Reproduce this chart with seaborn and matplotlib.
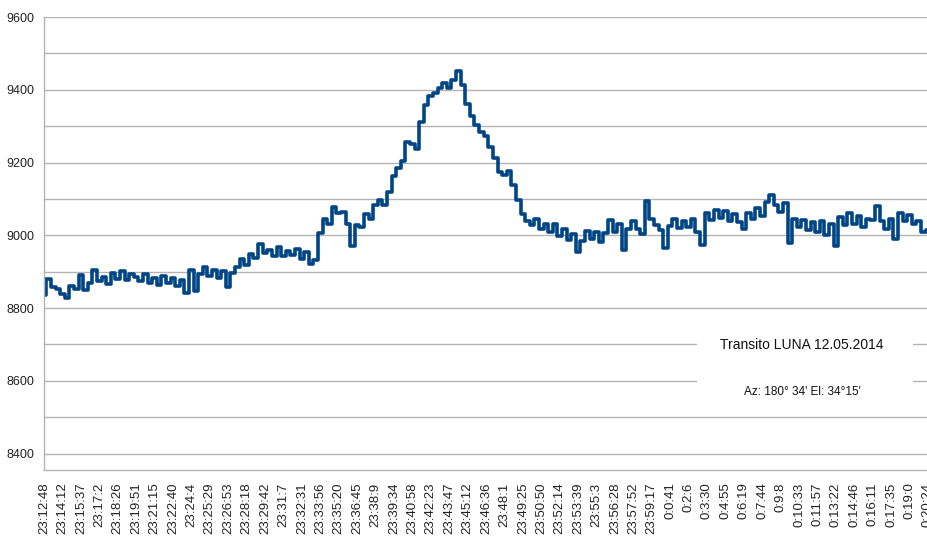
import numpy as np
import pandas as pd
import matplotlib
matplotlib.use("Agg")
import matplotlib.pyplot as plt
from matplotlib.patches import Rectangle
import seaborn as sns

# time labels shown on the x axis (one every 4 samples)
time_labels = ['23:12:48', '23:14:12', '23:15:37', '23:17:2', '23:18:26', '23:19:51',
               '23:21:15', '23:22:40', '23:24:4', '23:25:29', '23:26:53', '23:28:18',
               '23:29:42', '23:31:7', '23:32:31', '23:33:56', '23:35:20', '23:36:45',
               '23:38:9', '23:39:34', '23:40:58', '23:42:23', '23:43:47', '23:45:12',
               '23:46:36', '23:48:1', '23:49:25', '23:50:50', '23:52:14', '23:53:39',
               '23:55:3', '23:56:28', '23:57:52', '23:59:17', '0:0:41', '0:2:6',
               '0:3:30', '0:4:55', '0:6:19', '0:7:44', '0:9:8', '0:10:33',
               '0:11:57', '0:13:22', '0:14:46', '0:16:11', '0:17:35', '0:19:0',
               '0:20:24']

# signal values
signal = [
    8835, 8880, 8858, 8852, 8840, 8828, 8862, 8852, 8890, 8850,
    8868, 8905, 8875, 8886, 8866, 8896, 8880, 8902, 8876, 8894,
    8886, 8874, 8893, 8870, 8884, 8864, 8888, 8868, 8882, 8860,
    8878, 8842, 8905, 8848, 8893, 8912, 8888, 8906, 8884, 8902,
    8858, 8896, 8912, 8936, 8918, 8950, 8938, 8976, 8952, 8960,
    8944, 8968, 8942, 8958, 8946, 8962, 8934, 8954, 8922, 8932,
    9005, 9045, 9032, 9078, 9060, 9064, 9030, 8972, 9028, 9022,
    9058, 9044, 9082, 9096, 9084, 9118, 9162, 9186, 9204, 9256,
    9252, 9238, 9312, 9358, 9384, 9392, 9406, 9418, 9404, 9426,
    9452, 9412, 9362, 9328, 9302, 9284, 9272, 9244, 9212, 9174,
    9166, 9176, 9138, 9098, 9058, 9038, 9028, 9046, 9018, 9032,
    9008, 9030, 8998, 9016, 8988, 9004, 8954, 8984, 9012, 8990,
    9008, 8982, 9006, 9042, 9008, 9032, 8960, 9018, 9040, 9016,
    9004, 9094, 9044, 9028, 9014, 8964, 9026, 9046, 9020, 9038,
    9022, 9046, 9010, 8974, 9060, 9042, 9070, 9048, 9066, 9040,
    9058, 9036, 9018, 9062, 9044, 9076, 9052, 9092, 9110, 9082,
    9064, 9088, 8980, 9044, 9024, 9042, 9014, 9036, 9010, 9040,
    9002, 9032, 8970, 9050, 9028, 9060, 9030, 9052, 9024, 9046,
    9042, 9080, 9040, 9018, 9046, 8990, 9060, 9038, 9056, 9030,
    9040, 9010, 9015,
]

title_text = 'Transito LUNA 12.05.2014'
sub_text = "Az: 180° 34' El: 34°15'"

sns.set_style("white")
plt.rcParams['font.family'] = ['Liberation Sans', 'DejaVu Sans']

df = pd.DataFrame({'idx': np.arange(len(signal)), 'value': signal})

W, H = 928, 544
L, T, B = 44, 17, 470          # plot area edges in pixels
aw, ah = W - L, B - T

fig = plt.figure(figsize=(9.28, 5.44), dpi=100)
ax = fig.add_axes([L / W, 1 - B / H, aw / W, ah / H])

grid_c = '#b3b3b3'
sns.lineplot(data=df, x='idx', y='value', ax=ax, color='#004586',
             linewidth=2.6, drawstyle='steps-mid')

ax.set_xlim(0, len(signal) - 1)
ax.set_ylim(8355, 9600)

ax.set_yticks(np.arange(8400, 9601, 200))
ax.set_yticks(np.arange(8500, 9600, 200), minor=True)
ax.yaxis.grid(True, which='both', color=grid_c, linewidth=1)
ax.set_axisbelow(True)

step = (len(signal) - 1) // (len(time_labels) - 1)
ax.set_xticks(np.arange(0, len(signal), step))
ax.set_xticklabels(time_labels, rotation=90, fontsize=9.5, color='#222222')
ax.set_xticks(np.arange(len(signal)), minor=True)
ax.tick_params(axis='x', which='both', length=6, width=1, color=grid_c, pad=3)
ax.tick_params(axis='y', which='major', length=4, width=1, color=grid_c,
               labelsize=9, labelcolor='#222222', pad=3)
ax.tick_params(axis='y', which='minor', length=0)

for s in ['top', 'right']:
    ax.spines[s].set_visible(False)
for s in ['left', 'bottom']:
    ax.spines[s].set_color(grid_c)
    ax.spines[s].set_linewidth(1)

ax.set_xlabel('')
ax.set_ylabel('')


def px_box(x0, y0, x1, y1):
    # pixel box -> axes fraction rectangle
    return ((x0 - L) / aw, 1 - (y1 - T) / ah), (x1 - x0) / aw, (y1 - y0) / ah


for box in [(697, 333, 913, 358), (697, 370, 913, 410)]:
    xy, w, h = px_box(*box)
    ax.add_patch(Rectangle(xy, w, h, transform=ax.transAxes, facecolor='white',
                           edgecolor='none', zorder=3))

ax.text((802 - L) / aw, 1 - (345 - T) / ah, title_text, transform=ax.transAxes,
        ha='center', va='center', fontsize=10, color='#111111', zorder=4)
ax.text((802 - L) / aw, 1 - (392 - T) / ah, sub_text, transform=ax.transAxes,
        ha='center', va='center', fontsize=8.5, color='#111111', zorder=4)

fig.savefig('out.png', dpi=100)
